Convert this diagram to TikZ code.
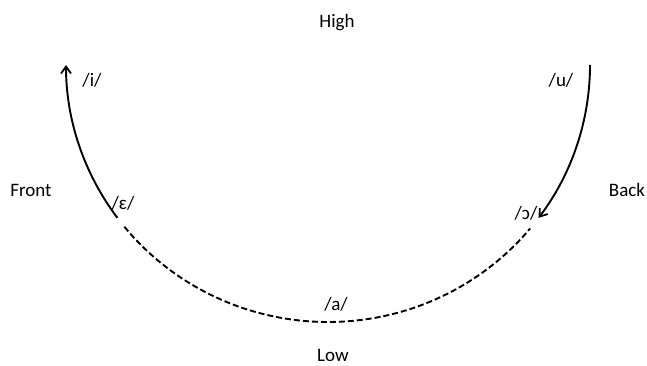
\documentclass[tikz,border=0pt]{standalone}
\usepackage{fontspec}
\setmainfont{Carlito}
\usetikzlibrary{arrows.meta}
\begin{document}
\begin{tikzpicture}[x=1pt,y=1pt,
  lbl/.style={anchor=base,inner sep=0pt,font=\fontsize{19}{21}\selectfont},
  curve/.style={line width=1.9pt},
  tip/.style={-{Straight Barb[length=7pt,width=10pt,line width=1.8pt]}}]
\useasboundingbox (0,0) rectangle (647,365);
\coordinate (c) at (328,300);
% solid left arc up to /i/ with arrow
\draw[curve,tip] ([shift={(216.5:262 and 257)}]c) arc[start angle=216.5,end angle=180,x radius=262,y radius=257];
% dashed bottom arc
\draw[curve,dash pattern=on 6pt off 3pt] ([shift={(219:262 and 257)}]c) arc[start angle=219,end angle=320.5,x radius=262,y radius=257];
% solid right arc from /u/ down with arrow
\draw[curve,tip] ([shift={(0:262 and 257)}]c) arc[start angle=0,end angle=-36.5,x radius=262,y radius=257];
\node[lbl] (high) at (337,337) {High};
\node[lbl] (low) at (333,4) {Low};
\node[lbl] (front) at (31,169) {Front};
\node[lbl] (back) at (627,169) {Back};
\node[lbl] (i) at (92,279) {/i/};
\node[lbl] (u) at (561,279) {/u/};
\node[lbl] (e) at (123,156) {/ɛ/};
\node[lbl] (o) at (526,146) {/ɔ/};
\node[lbl] (a) at (336,55) {/a/};
\end{tikzpicture}
\end{document}
